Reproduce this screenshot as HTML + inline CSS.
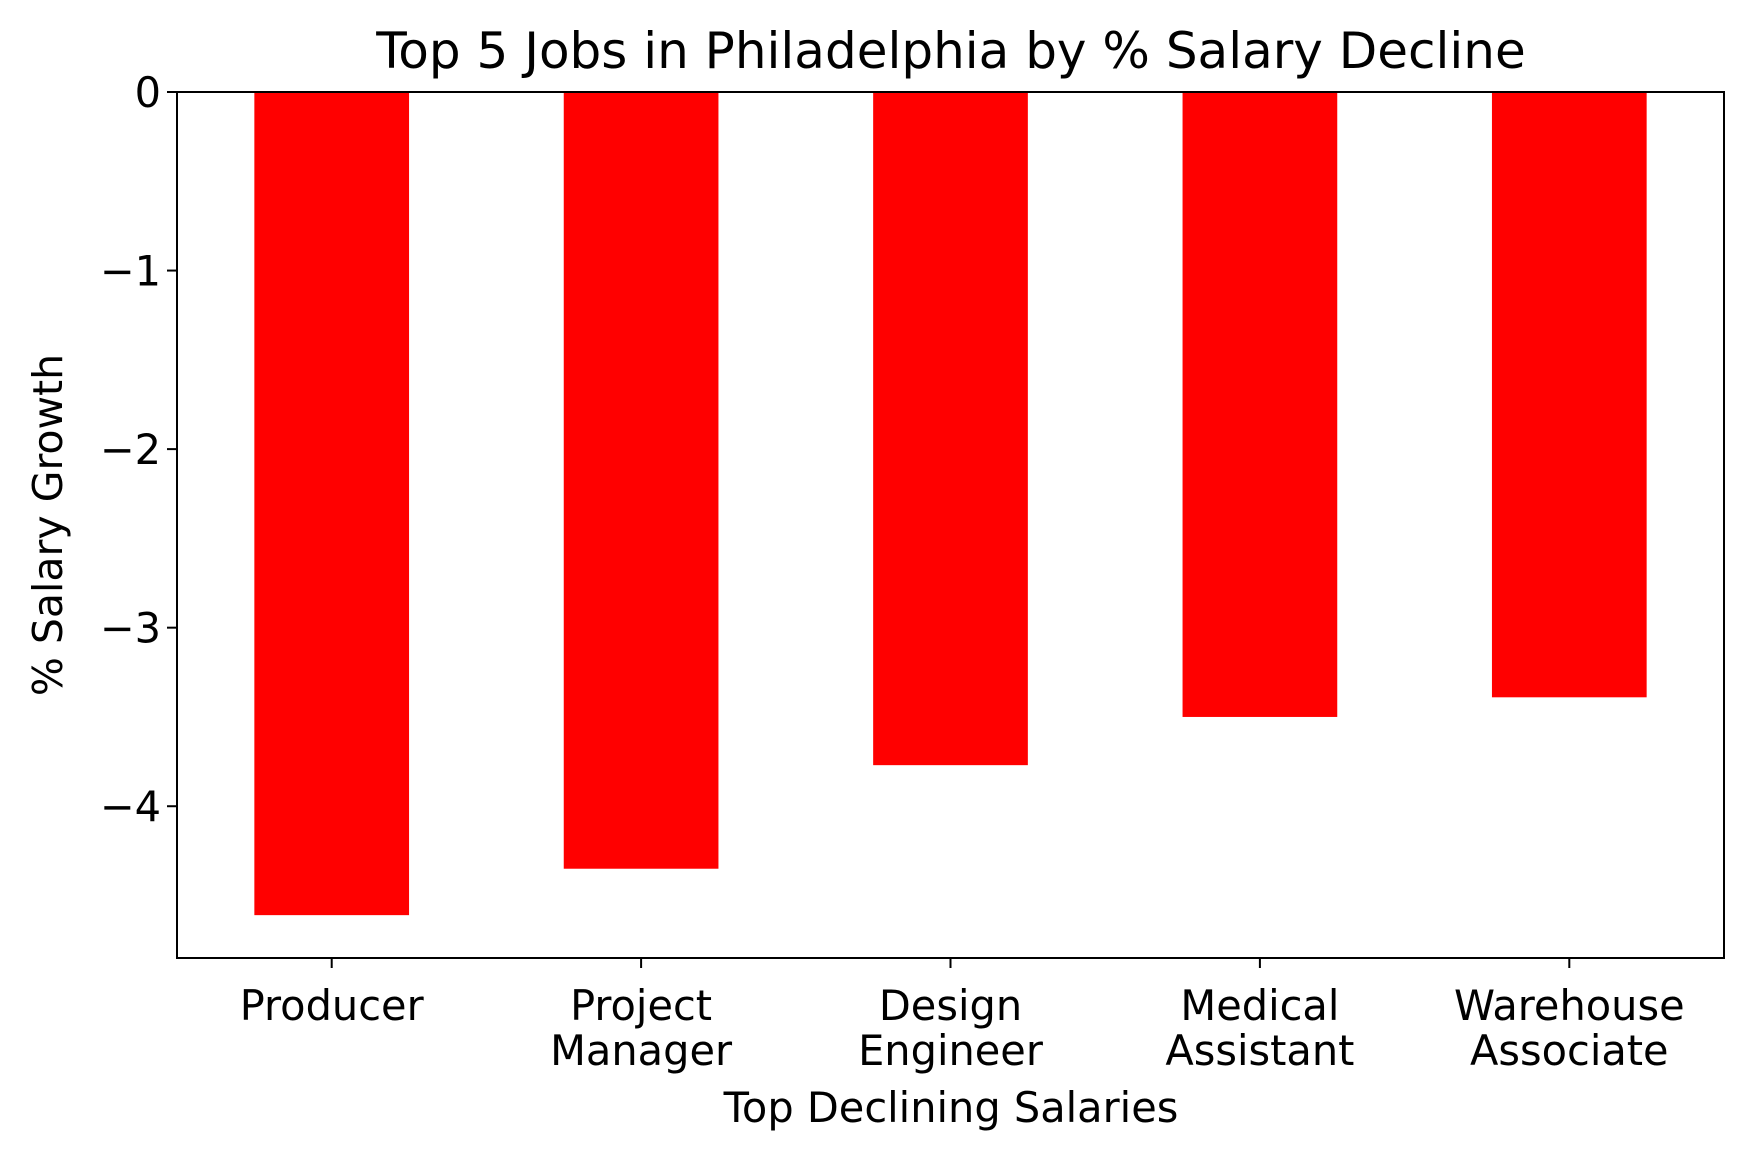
<!DOCTYPE html>
<html><head><meta charset="utf-8"><style>body{margin:0;background:#fff}svg{display:block}text{font-family:"DejaVu Sans","Liberation Sans",sans-serif;fill:#000}</style></head>
<body>
<svg id="chart" width="1757" height="1160" viewBox="0 0 1757 1160">
<rect width="1757" height="1160" fill="#fff"/>
<text x="951" y="68" font-size="50" text-anchor="middle">Top 5 Jobs in Philadelphia by % Salary Decline</text>
<g id="bars"></g><g id="yticks"></g><g id="xticks"></g>
<rect x="177" y="92" width="1547" height="866" fill="none" stroke="#000" stroke-width="2"/>
<text x="951" y="1122" font-size="41.5" text-anchor="middle">Top Declining Salaries</text>
<text transform="translate(62,525) rotate(-90)" font-size="41" text-anchor="middle">% Salary Growth</text>
</svg>
<script>
const categories=[["Producer"],["Project","Manager"],["Design","Engineer"],["Medical","Assistant"],["Warehouse","Associate"]];
const values=[-4.61,-4.35,-3.77,-3.50,-3.39];
const yTicks=[0,-1,-2,-3,-4];
const yTickLabels=["0","\u22121","\u22122","\u22123","\u22124"];
const L=177,R=1724,T=92,B=958,yMin=-4.85,yMax=0;
const ns="http://www.w3.org/2000/svg";
function xs(i){return L+(i+0.5)*(R-L)/categories.length;}
function ys(v){return T+(yMax-v)/(yMax-yMin)*(B-T);}
function mk(tag,attrs,parent){const e=document.createElementNS(ns,tag);for(const k in attrs)e.setAttribute(k,attrs[k]);parent.appendChild(e);return e;}
const bw=(R-L)/categories.length*0.5;
const gb=document.getElementById('bars'),gy=document.getElementById('yticks'),gx=document.getElementById('xticks');
values.forEach((v,i)=>{
 const y0=ys(0),y1=ys(v);
 const r=mk('rect',{x:xs(i)-bw/2,y:Math.min(y0,y1),width:bw,height:Math.abs(y1-y0),fill:'#ff0000'},gb);
 
 
});
yTicks.forEach((t,i)=>{
 const y=ys(t);
 const l=mk('line',{x1:L-10,x2:L,y1:y,y2:y,stroke:'#000','stroke-width':2},gy);
 
 
 const tx=mk('text',{x:L-16,y:y+15,'font-size':41.5,'text-anchor':'end'},gy);
 tx.textContent=yTickLabels[i];
 
 
});
categories.forEach((c,i)=>{
 const x=xs(i);
 const l=mk('line',{x1:x,x2:x,y1:B,y2:B+10,stroke:'#000','stroke-width':2},gx);
 
 
 const tx=mk('text',{x:x,y:1020,'font-size':41.5,'text-anchor':'middle'},gx);
 
 
 c.forEach((s,j)=>{const ts=mk('tspan',{x:x,dy:j?45:0},tx);ts.textContent=s;});
});
</script>
</body></html>
